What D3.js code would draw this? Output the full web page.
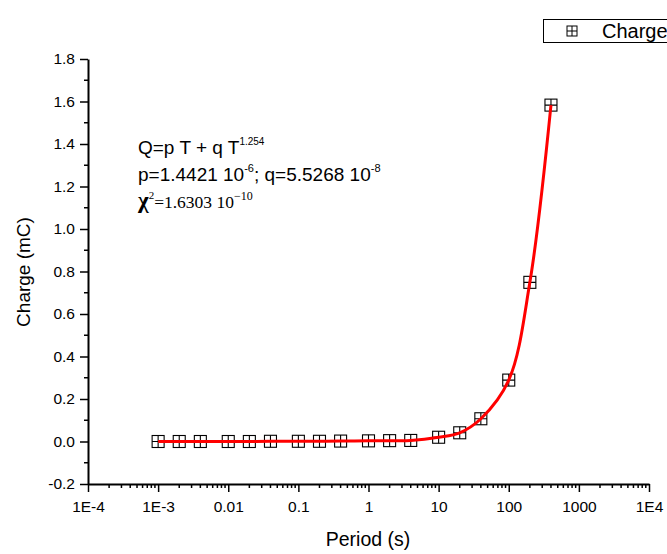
<!DOCTYPE html>
<html><head><meta charset="utf-8">
<script src="https://cdn.jsdelivr.net/npm/d3@7/dist/d3.min.js"></script>
<style>body{margin:0;background:#fff}svg{display:block}</style>
</head><body>
<svg id="c" width="667" height="554"></svg>
<script>
const periods = [0.001,0.002,0.004,0.01,0.02,0.04,0.1,0.2,0.4,1,2,4,10,20,40,100,200,400];
const charges = [0.000,0.000,0.000,0.000,0.000,0.001,0.001,0.001,0.002,0.003,0.004,0.005,0.020,0.041,0.107,0.289,0.749,1.583];
const xTickValues = [1e-4,1e-3,1e-2,1e-1,1,10,100,1000,1e4];
const xTickLabels = ["1E-4","1E-3","0.01","0.1","1","10","100","1000","1E4"];
const yTickValues = [-0.2,0,0.2,0.4,0.6,0.8,1.0,1.2,1.4,1.6,1.8];
const yTickLabels = ["-0.2","0.0","0.2","0.4","0.6","0.8","1.0","1.2","1.4","1.6","1.8"];

const svg = d3.select("#c");
const font = "Liberation Sans, Arial, sans-serif";
const x = d3.scaleLog().domain([1e-4,1e4]).range([88,649]);
const y = d3.scaleLinear().domain([-0.2,1.8]).range([484,59]);

// x axis
const xMinor = [];
for (let e=-4;e<4;e++) for (let m=2;m<=9;m++) xMinor.push(m*Math.pow(10,e));
const gx = svg.append("g").attr("transform","translate(0,484)");
gx.call(d3.axisBottom(x).tickValues(xTickValues).tickFormat((d,i)=>xTickLabels[i]).tickSize(8).tickSizeOuter(0).tickPadding(9));
gx.append("g").selectAll("line").data(xMinor).join("line")
  .attr("x1",d=>x(d)).attr("x2",d=>x(d)).attr("y1",0).attr("y2",4).attr("stroke","#000").attr("stroke-width",1.5);
// y axis
const yMinor = d3.range(-0.1,1.8,0.2);
const gy = svg.append("g").attr("transform","translate(88,0)");
gy.call(d3.axisLeft(y).tickValues(yTickValues).tickFormat((d,i)=>yTickLabels[i]).tickSize(8).tickSizeOuter(0).tickPadding(5));
gy.append("g").selectAll("line").data(yMinor).join("line")
  .attr("y1",d=>y(d)).attr("y2",d=>y(d)).attr("x1",0).attr("x2",-4).attr("stroke","#000").attr("stroke-width",1.5);
[gx,gy].forEach(g=>{
  g.selectAll(".domain").attr("stroke","#000").attr("stroke-width",2);
  g.selectAll(".tick line").attr("stroke","#000").attr("stroke-width",1.5);
  g.selectAll("text").attr("font-family",font).attr("font-size",15.5).attr("fill","#000");
});

// axis titles
svg.append("text").attr("x",368).attr("y",546).attr("text-anchor","middle")
  .attr("font-family",font).attr("font-size",19.5).text("Period (s)");
svg.append("text").attr("transform","translate(30,272) rotate(-90)").attr("text-anchor","middle")
  .attr("font-family",font).attr("font-size",19).text("Charge (mC)");

// points
const data = periods.map((p,i)=>({p, c:charges[i]}));
const s = 6;
const pts = svg.append("g").selectAll("g").data(data).join("g")
  .attr("transform",d=>`translate(${x(d.p)},${y(d.c)})`);
pts.append("rect").attr("x",-s).attr("y",-s).attr("width",2*s).attr("height",2*s)
  .attr("fill","none").attr("stroke","#000").attr("stroke-width",1.1);
pts.append("path").attr("d",`M${-s},0H${s}M0,${-s}V${s}`).attr("stroke","#000").attr("stroke-width",1.1);

// fit curve
const line = d3.line().x(d=>x(d.p)).y(d=>y(d.c)).curve(d3.curveCatmullRom.alpha(0.5));
svg.append("path").datum(data).attr("d",line).attr("fill","none").attr("stroke","#ff0000").attr("stroke-width",3);

// annotation
const a1 = svg.append("text").attr("x",138).attr("y",154).attr("font-family",font).attr("font-size",19);
a1.append("tspan").text("Q=p T + q T");
a1.append("tspan").attr("dy",-9).attr("font-size",10).text("1.254");
const a2 = svg.append("text").attr("x",138).attr("y",181).attr("font-family",font).attr("font-size",19);
a2.append("tspan").text("p=1.4421 10");
a2.append("tspan").attr("dy",-9).attr("font-size",11).text("-6");
a2.append("tspan").attr("dy",9).text("; q=5.5268 10");
a2.append("tspan").attr("dy",-9).attr("font-size",11).text("-8");
const a3 = svg.append("text").attr("x",138).attr("y",208).attr("font-family","Liberation Serif, Times New Roman, serif").attr("font-size",17.5);
a3.append("tspan").attr("font-weight","bold").attr("font-size",23).text("χ");
a3.append("tspan").attr("dy",-9).attr("font-size",11).text("2");
a3.append("tspan").attr("dy",9).text("=1.6303 10");
a3.append("tspan").attr("dy",-8).attr("font-size",12).text("−10");

// legend
const lg = svg.append("g");
lg.append("rect").attr("x",543.5).attr("y",19.5).attr("width",140).attr("height",23).attr("fill","#fff").attr("stroke","#000").attr("stroke-width",1);
const ls = 5;
lg.append("rect").attr("x",572-ls).attr("y",31-ls).attr("width",2*ls).attr("height",2*ls).attr("fill","none").attr("stroke","#000").attr("stroke-width",1);
lg.append("path").attr("d",`M${572-ls},31H${572+ls}M572,${31-ls}V${31+ls}`).attr("stroke","#000").attr("stroke-width",1);
lg.append("text").attr("x",602).attr("y",38).attr("font-family",font).attr("font-size",20).text("Charge");
</script>
</body></html>
